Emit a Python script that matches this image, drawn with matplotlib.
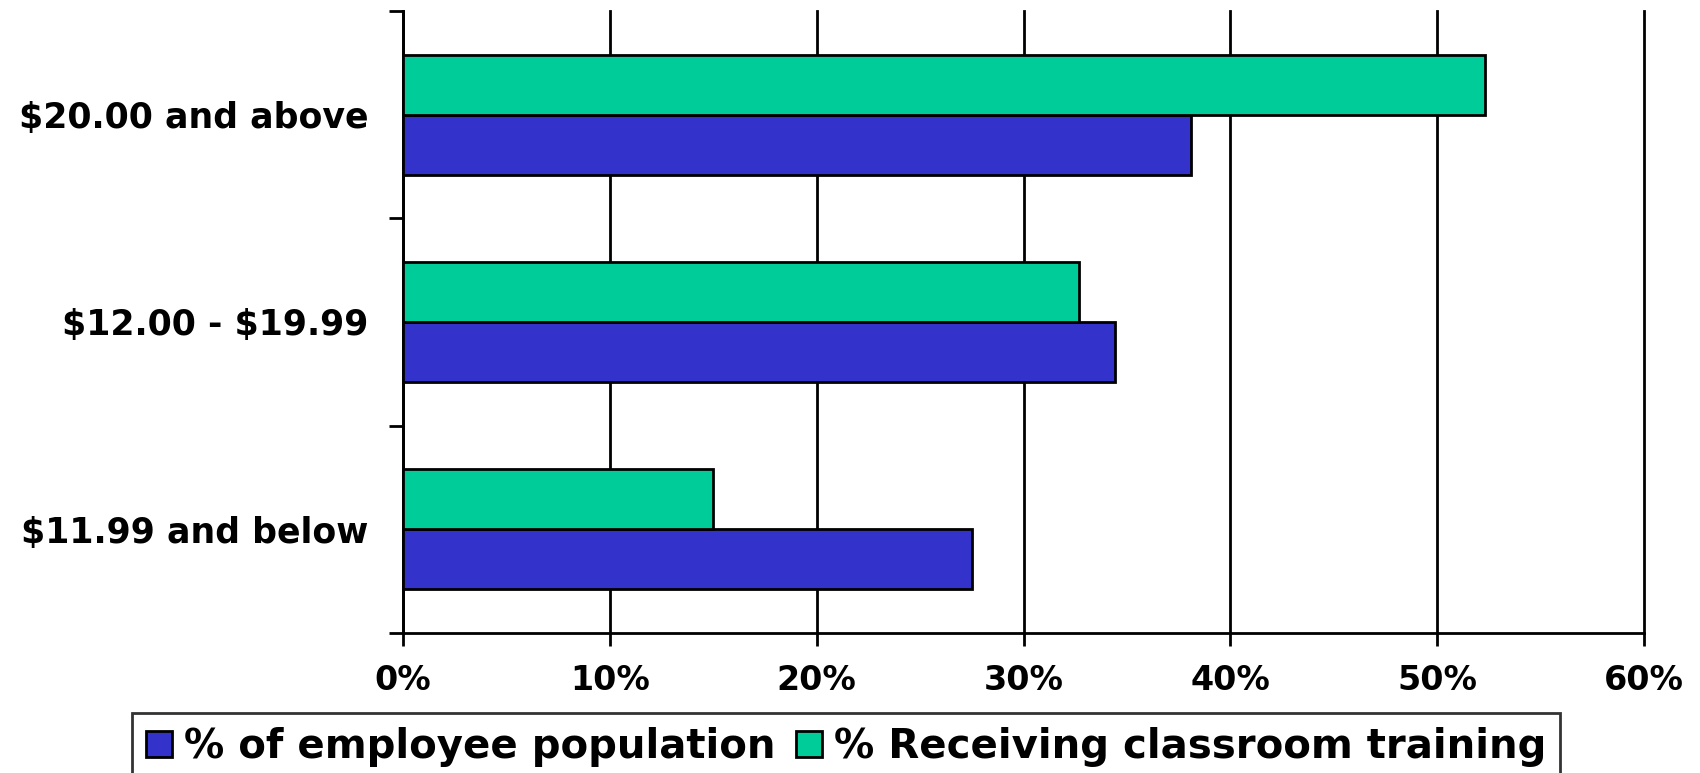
import matplotlib
matplotlib.use("Agg")
import matplotlib.pyplot as plt
from matplotlib.ticker import FixedLocator, PercentFormatter

# wage bands, bottom to top as drawn
categories = ["$11.99 and below", "$12.00 - $19.99", "$20.00 and above"]
employee_pct = [27.5, 34.4, 38.1]
training_pct = [15.0, 32.7, 52.3]
series_names = ["% of employee population", "% Receiving classroom training"]
x_ticks = [0, 10, 20, 30, 40, 50, 60]

blue = "#3333CC"
green = "#00CC99"

plt.rcParams['font.family'] = ['DejaVu Sans']
plt.rcParams['font.weight'] = 'bold'
plt.rcParams['text.parse_math'] = False  # labels contain dollar signs

fig = plt.figure(figsize=(17, 7.73), dpi=100)
ax = fig.add_axes([0.2371, 0.1811, 0.73, 0.8047])

ypos = list(range(len(categories)))
h = 0.29
lw = 2.0
b1 = ax.barh([y - h / 2 for y in ypos], employee_pct, height=h, color=blue,
             edgecolor="black", linewidth=lw, label=series_names[0], zorder=3)
b2 = ax.barh([y + h / 2 for y in ypos], training_pct, height=h, color=green,
             edgecolor="black", linewidth=lw, label=series_names[1], zorder=3)

ax.set_xlim(0, 60)
ax.set_ylim(-0.5, len(categories) - 0.5)
ax.set_xticks(x_ticks)
ax.xaxis.set_major_formatter(PercentFormatter(decimals=0))
ax.set_yticks(ypos)
ax.set_yticklabels(categories)
ax.yaxis.set_minor_locator(FixedLocator([y - 0.5 for y in range(len(categories) + 1)]))

ax.tick_params(axis="x", length=9, width=lw, direction="out", pad=13, labelsize=24)
ax.tick_params(axis="y", which="major", length=0, pad=25, labelsize=25)
ax.tick_params(axis="y", which="minor", length=10, width=lw, direction="out")
for lab in ax.get_xticklabels() + ax.get_yticklabels():
    lab.set_fontweight("bold")

ax.grid(axis="x", color="black", linewidth=lw, zorder=0)
for gl in ax.get_xgridlines():
    gl.set_clip_on(False)
ax.set_axisbelow(True)
for side in ["top", "right"]:
    ax.spines[side].set_visible(False)
for side in ["left", "bottom"]:
    ax.spines[side].set_linewidth(lw)
    ax.spines[side].set_color("black")

leg = fig.legend(handles=[b1, b2], loc="upper center", bbox_to_anchor=(0.4976, 0.0776),
                 ncol=2, frameon=True, fancybox=False, edgecolor="black",
                 prop={"size": 29, "weight": "bold"}, handlelength=0.65, handleheight=0.65,
                 handletextpad=0.3, columnspacing=0.5, borderpad=0.35, borderaxespad=0)
leg.get_frame().set_linewidth(lw)

fig.savefig("out.png", dpi=100)
